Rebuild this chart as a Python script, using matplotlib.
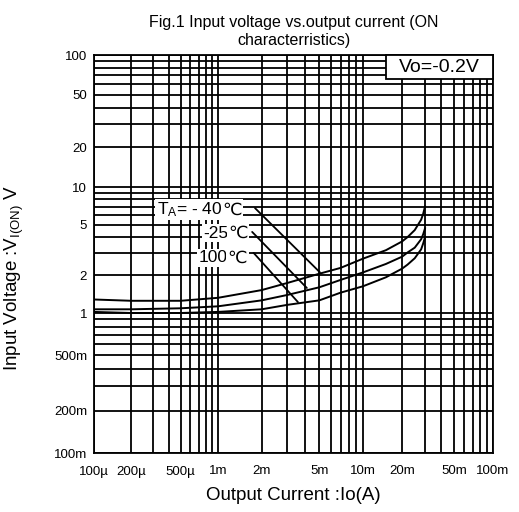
import numpy as np
import matplotlib
matplotlib.use("Agg")
import matplotlib.pyplot as plt
from matplotlib.patches import Rectangle
from matplotlib.ticker import FixedLocator, FixedFormatter, NullFormatter

plt.rcParams['font.family'] = ['Liberation Sans', 'DejaVu Sans']
plt.rcParams['mathtext.default'] = 'regular'

# ---------------- data ----------------
current = [1e-4, 2e-4, 5e-4, 1e-3, 2e-3, 3e-3, 5e-3, 7e-3, 1e-2, 1.5e-2, 2e-2,
           2.2e-2, 2.5e-2, 2.8e-2, 2.9e-2, 3e-2]
v_m40 = [1.28, 1.25, 1.25, 1.32, 1.52, 1.73, 2.05, 2.28, 2.70, 3.15, 3.70,
         4.00, 4.55, 5.50, 6.10, 7.00]
v_m25 = [1.07, 1.07, 1.09, 1.13, 1.26, 1.39, 1.60, 1.83, 2.10, 2.45, 2.80,
         3.02, 3.30, 3.85, 4.20, 4.70]
v_100 = [1.02, 1.00, 1.00, 1.02, 1.07, 1.16, 1.26, 1.45, 1.63, 1.92, 2.25,
         2.42, 2.72, 3.20, 3.55, 4.00]

x_ticks = [1e-4, 2e-4, 5e-4, 1e-3, 2e-3, 5e-3, 1e-2, 2e-2, 5e-2, 1e-1]
x_tick_labels = ['100µ', '200µ', '500µ', '1m', '2m', '5m', '10m', '20m', '50m', '100m']
y_ticks = [0.1, 0.2, 0.5, 1, 2, 5, 10, 20, 50, 100]
y_tick_labels = ['100m', '200m', '500m', '1', '2', '5', '10', '20', '50', '100']

# temperature labels: text, anchor (data), leader start and end (on curve)
labels = ['T$_{A}$= - 40', '-25', '100']
unit = '℃'
label_pos = [(3.2e-4, 6.6), (7.6e-4, 4.3), (7.0e-4, 2.75)]
leader_start = [(1.8e-3, 6.8), (1.72e-3, 4.4), (1.76e-3, 3.0)]
leader_end = [(5.05e-3, 2.1), (4.1e-3, 1.58), (3.56e-3, 1.22)]

condition = 'Vo=-0.2V'

# ---------------- piecewise log scales (decade widths of the original sheet) ----------------
def make_scale(u_knots, p_knots):
    u_knots = np.asarray(u_knots, float)
    p_knots = np.asarray(p_knots, float)

    def fwd(x):
        x = np.asarray(x, float)
        u = np.log10(np.where(x > 0, x, 1e-300))
        out = np.interp(u, u_knots, p_knots)
        s0 = (p_knots[1] - p_knots[0]) / (u_knots[1] - u_knots[0])
        s1 = (p_knots[-1] - p_knots[-2]) / (u_knots[-1] - u_knots[-2])
        out = np.where(u < u_knots[0], p_knots[0] + (u - u_knots[0]) * s0, out)
        out = np.where(u > u_knots[-1], p_knots[-1] + (u - u_knots[-1]) * s1, out)
        return out

    def inv(p):
        p = np.asarray(p, float)
        u = np.interp(p, p_knots, u_knots)
        s0 = (u_knots[1] - u_knots[0]) / (p_knots[1] - p_knots[0])
        s1 = (u_knots[-1] - u_knots[-2]) / (p_knots[-1] - p_knots[-2])
        u = np.where(p < p_knots[0], u_knots[0] + (p - p_knots[0]) * s0, u)
        u = np.where(p > p_knots[-1], u_knots[-1] + (p - p_knots[-1]) * s1, u)
        return 10.0 ** u
    return fwd, inv

xf, xi = make_scale([-4, -3, -2, -1], [0, 124, 269, 399])
yf, yi = make_scale([-1, 0, 1, 2], [0, 140, 266, 398])

fig = plt.figure(figsize=(5.19, 5.12), dpi=100)
ax = fig.add_axes([94 / 519, 1 - 453 / 512, 399 / 519, 398 / 512])
ax.set_xscale('function', functions=(xf, xi))
ax.set_yscale('function', functions=(yf, yi))
ax.set_xlim(1e-4, 1e-1)
ax.set_ylim(0.1, 100)

minor_x = [m * 10.0 ** e for e in (-4, -3, -2) for m in range(2, 10)]
minor_y = [m * 10.0 ** e for e in (-1, 0, 1) for m in range(2, 10)]
ax.xaxis.set_major_locator(FixedLocator(x_ticks))
ax.xaxis.set_major_formatter(FixedFormatter(x_tick_labels))
ax.xaxis.set_minor_locator(FixedLocator(minor_x))
ax.xaxis.set_minor_formatter(NullFormatter())
ax.yaxis.set_major_locator(FixedLocator(y_ticks))
ax.yaxis.set_major_formatter(FixedFormatter(y_tick_labels))
ax.yaxis.set_minor_locator(FixedLocator(minor_y))
ax.yaxis.set_minor_formatter(NullFormatter())

ax.grid(True, which='both', color='black', linewidth=1.3)
ax.tick_params(which='both', length=0, labelsize=9.5)
ax.tick_params(axis='x', pad=9)
ax.tick_params(axis='y', pad=5)
for sp in ax.spines.values():
    sp.set_linewidth(1.3)

for v in (v_m40, v_m25, v_100):
    ax.plot(current, v, color='black', lw=1.4, zorder=3)

for txt, pos, s, e in zip(labels, label_pos, leader_start, leader_end):
    t = ax.text(pos[0], pos[1], txt, fontsize=12.5, va='center', ha='left', zorder=5,
                bbox=dict(facecolor='white', edgecolor='none', pad=1.0))
    ax.annotate(unit, xy=(1, 0.5), xycoords=t, va='center', ha='left',
                fontsize=12.5, family='DejaVu Sans', zorder=5,
                bbox=dict(facecolor='white', edgecolor='none', pad=1.0))
    ax.annotate('', xy=e, xytext=s,
                arrowprops=dict(arrowstyle='-', color='black', lw=1.3,
                                shrinkA=0, shrinkB=0), zorder=4)

ax.add_patch(Rectangle((0.732, 0.94), 0.268, 0.06, transform=ax.transAxes,
                       facecolor='white', edgecolor='black', lw=1.3, zorder=6,
                       clip_on=False))
ax.text(0.866, 0.969, condition, transform=ax.transAxes, ha='center', va='center',
        fontsize=14, zorder=7)

ax.set_title('Fig.1 Input voltage vs.output current (ON\ncharacterristics)',
             fontsize=11.5, pad=7, linespacing=1.3)
ax.set_xlabel('Output Current :Io(A)', fontsize=13.5, labelpad=7)
ax.set_ylabel('Input Voltage :V$_{I(ON)}$ V', fontsize=13.5)
ax.yaxis.set_label_coords(-0.17, 0.44)

fig.savefig('out.png', dpi=100)
